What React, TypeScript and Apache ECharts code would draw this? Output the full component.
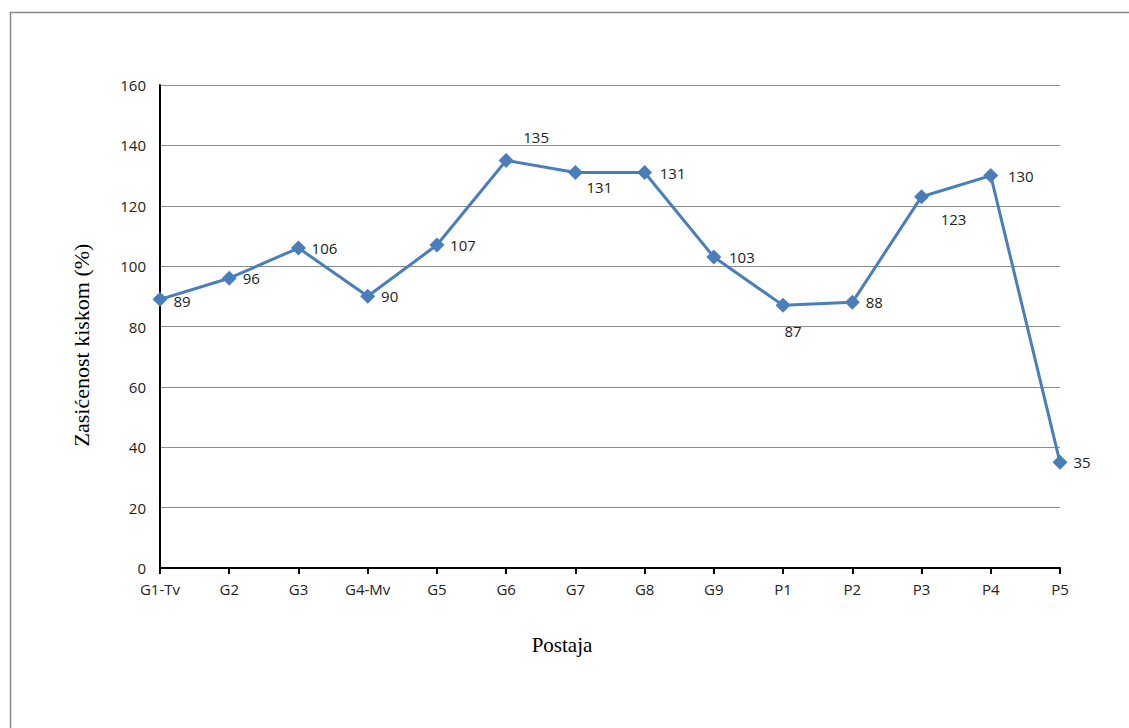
import React, { useEffect, useRef } from "react";
import * as echarts from "echarts";

const categories = ["G1-Tv", "G2", "G3", "G4-Mv", "G5", "G6", "G7", "G8", "G9", "P1", "P2", "P3", "P4", "P5"];
const values = [89, 96, 106, 90, 107, 135, 131, 131, 103, 87, 88, 123, 130, 35];
// label placement per point: [dx, dy]
const labelOffsets: [number, number][] = [
  [22, 2], [22, 0], [26, 0], [22, 0], [26, 0], [30, -23], [24, 14], [28, 0], [28, 0], [10, 26], [22, 0], [32, 22], [30, 0], [22, 0],
];

const yTicks = [0, 20, 40, 60, 80, 100, 120, 140, 160];
const FONT = "Open Sans";
const xTitle = "Postaja";
const yTitle = "Zasićenost kiskom (%)";

export default function App() {
  const ref = useRef<HTMLDivElement>(null);
  useEffect(() => {
    document.body.style.margin = "0";
    const chart = echarts.init(ref.current!, null, { renderer: "svg" });
    chart.setOption({
      animation: false,
      backgroundColor: "#ffffff",
      graphic: [
        {
          type: "rect",
          left: 8,
          top: 10,
          shape: { x: 0, y: 0, width: 1300, height: 900 },
          style: { fill: "none", stroke: "#878787", lineWidth: 1.5 },
          silent: true,
        },
        {
          type: "text",
          x: 562,
          y: 645,
          style: {
            text: xTitle,
            fontFamily: "Liberation Serif",
            fontSize: 21,
            fill: "#000",
            textAlign: "center",
            textVerticalAlign: "middle",
          },
          silent: true,
        },
        {
          type: "text",
          x: 81,
          y: 345,
          rotation: Math.PI / 2,
          style: {
            text: yTitle,
            fontFamily: "Liberation Serif",
            fontSize: 22,
            fill: "#000",
            textAlign: "center",
            textVerticalAlign: "middle",
          },
          silent: true,
        },
      ],
      grid: { left: 160, right: 69, top: 85, bottom: 160, containLabel: false },
      xAxis: {
        type: "category",
        data: categories,
        boundaryGap: false,
        axisLine: { lineStyle: { color: "#000", width: 2 } },
        axisTick: { show: true, length: 6, lineStyle: { color: "#000", width: 2 }, alignWithLabel: true },
        axisLabel: { fontFamily: FONT, fontSize: 15, color: "#222", margin: 13, interval: 0 },
        splitLine: { show: false },
      },
      yAxis: {
        type: "value",
        min: yTicks[0],
        max: yTicks[yTicks.length - 1],
        interval: 20,
        axisLine: { show: true, lineStyle: { color: "#000", width: 2 } },
        axisTick: { show: false },
        axisLabel: { fontFamily: FONT, fontSize: 15, color: "#222", margin: 14 },
        splitLine: { show: true, lineStyle: { color: "#8c8c8c", width: 1 } },
      },
      series: [
        {
          type: "line",
          data: values.map((v, i) => ({
            value: v,
            label: {
              show: true,
              position: "inside",
              offset: labelOffsets[i],
              formatter: String(v),
              fontFamily: FONT,
              fontSize: 15,
              color: "#222",
            },
          })),
          symbol: "diamond",
          symbolSize: 15,
          itemStyle: { color: "#4a7ebb" },
          lineStyle: { color: "#4a7ebb", width: 3 },
          z: 3,
        },
      ],
    });
    return () => chart.dispose();
  }, []);
  return <div ref={ref} style={{ width: 1129, height: 728 }} />;
}
